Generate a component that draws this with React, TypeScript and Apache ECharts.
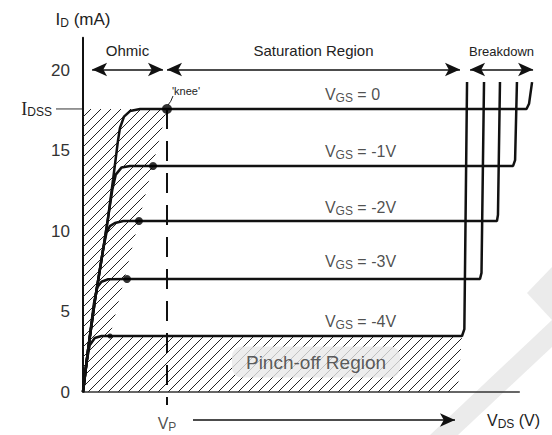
import React, { useEffect, useRef } from "react";
import * as echarts from "echarts";

// ---- axes ----
const X_MAX = 27.5;
const Y_MAX = 22;
const Y_INTERVAL = 5;

// ---- key levels ----
const IDSS = 17.58;
const VP = 5.0;

// ---- characteristic curves (VDS, ID) ----
const VGS_0 = [[0, 0], [0.3, 2.6], [0.71, 5.7], [1.19, 8.8], [1.49, 10.8], [1.79, 13.2], [2.08, 15.6], [2.2, 16.4], [2.44, 17.1], [2.8, 17.45], [3.4, 17.58], [5.0, 17.58], [26.4, 17.58], [26.55, 17.9], [26.73, 19.25]];
const VGS_1 = [[0, 0], [0.3, 2.6], [0.71, 5.7], [1.19, 8.8], [1.49, 10.8], [1.75, 12.6], [1.95, 13.5], [2.3, 13.95], [2.8, 14.04], [4.17, 14.04], [25.6, 14.04], [25.72, 14.4], [25.83, 19.25]];
const VGS_2 = [[0, 0], [0.3, 2.6], [0.71, 5.7], [1.19, 8.8], [1.4, 9.9], [1.6, 10.3], [1.9, 10.5], [2.4, 10.62], [3.33, 10.62], [24.64, 10.62], [24.7, 11.0], [24.82, 19.25]];
const VGS_3 = [[0, 0], [0.3, 2.6], [0.65, 5.5], [0.85, 6.5], [1.1, 6.85], [1.5, 7.0], [2.62, 7.02], [23.63, 7.02], [23.72, 7.4], [23.87, 19.25]];
const VGS_4 = [[0, 0], [0.2, 1.8], [0.4, 2.9], [0.7, 3.35], [1.1, 3.48], [1.61, 3.48], [22.56, 3.48], [22.7, 3.9], [22.86, 19.25]];
const CURVES = [VGS_0, VGS_1, VGS_2, VGS_3, VGS_4];
const CURVE_NAMES = ["0", "-1V", "-2V", "-3V", "-4V"];
const CURVE_LEVELS = [17.58, 14.04, 10.62, 7.02, 3.48];
const CURVE_LABEL_X = 14.4;

// ---- pinch-off points ----
const PINCH_POINTS = [[5.0, 17.58], [4.17, 14.04], [3.33, 10.62], [2.62, 7.02], [1.61, 3.48]];
const PINCH_SIZES = [10, 8, 8, 8, 5];

// ---- regions ----
const HATCH_REGION = [[0, 0], [0, 17.58], [5.0, 17.58], [1.61, 3.48], [22.56, 3.48], [22.3, 0]];
const BASELINE = [[0, 0], [26.0, 0]];
const VP_LINE = [[VP, 17.58], [VP, -0.8]];
const REGION_ARROWS = [[0.54, 4.76], [5.0, 22.44], [23.04, 26.79]];
const REGION_ARROW_Y = 20.03;
const REGION_NAMES = ["Ohmic", "Saturation Region", "Breakdown"];
const PINCH_LABEL_POS = [13.87, 1.86];

const FONT = "Liberation Sans, Arial, sans-serif";

export default function App() {
  const ref = useRef<HTMLDivElement>(null);

  useEffect(() => {
    if (!ref.current) return;
    const chart = echarts.init(ref.current, null, { renderer: "svg" });

    const cv = document.createElement("canvas");
    cv.width = 10;
    cv.height = 10;
    const ctx = cv.getContext("2d")!;
    ctx.strokeStyle = "#222";
    ctx.lineWidth = 1;
    ctx.beginPath();
    ctx.moveTo(0, 10); ctx.lineTo(10, 0);
    ctx.moveTo(-1, 1); ctx.lineTo(1, -1);
    ctx.moveTo(9, 11); ctx.lineTo(11, 9);
    ctx.stroke();
    const hatch: any = { image: cv, repeat: "repeat", imageWidth: 10, imageHeight: 10 };

    const sub = (size: number) => ({ fontSize: size, fontFamily: FONT, color: "#222", padding: [7, 0, 0, 0] });
    const main = (size: number) => ({ fontSize: size, fontFamily: FONT, color: "#222" });

    const curveSeries = CURVES.map((c) => ({
      type: "line",
      data: c,
      symbol: "none",
      clip: false,
      lineStyle: { color: "#111", width: 2.5 },
      z: 3,
    }));

    const option: any = {
      animation: false,
      grid: { left: 83, right: 552 - 83 - X_MAX * 16.8, top: 392 - Y_MAX * 16.1, bottom: 43 },
      xAxis: {
        type: "value", min: 0, max: X_MAX,
        axisLine: { show: false }, axisTick: { show: false }, axisLabel: { show: false }, splitLine: { show: false },
      },
      yAxis: {
        type: "value", min: 0, max: Y_MAX, interval: Y_INTERVAL,
        axisLine: { show: true, lineStyle: { color: "#111", width: 2 } },
        axisTick: { show: false },
        splitLine: { show: false },
        axisLabel: {
          margin: 13, fontSize: 17, fontFamily: FONT, color: "#333",
          formatter: (v: number) => (v % Y_INTERVAL === 0 ? String(v) : ""),
        },
        name: "{i|I}{s|D}{t| (mA)}",
        nameLocation: "end",
        nameGap: 9,
        nameTextStyle: { rich: { i: main(17), s: sub(12), t: main(17) } },
      },
      graphic: [
        { type: "polygon", z: -10, silent: true, shape: { points: [[527, 293], [552, 267], [552, 320]] }, style: { fill: "#ebebeb" } },
        { type: "polygon", z: -10, silent: true, shape: { points: [[430, 435], [458, 435], [552, 347], [552, 320]] }, style: { fill: "#ebebeb" } },
        { type: "text", x: 172, y: 91, style: { text: "'knee'", fontSize: 11, fontFamily: FONT, fill: "#222", verticalAlign: "middle" } },
        { type: "bezierCurve", shape: { x1: 168, y1: 105, x2: 173, y2: 96, cpx1: 171, cpy1: 102 }, style: { stroke: "#222", lineWidth: 1, fill: "none" } },
      ],
      series: [
        {
          type: "custom",
          coordinateSystem: "cartesian2d",
          data: [0],
          silent: true,
          z: 1,
          renderItem: (_p: any, api: any) => ({
            type: "polygon",
            shape: { points: HATCH_REGION.map((p) => api.coord(p)) },
            style: { fill: hatch, stroke: "none" },
          }),
        },
        {
          type: "line",
          data: BASELINE,
          symbol: "none",
          clip: false,
          lineStyle: { color: "#333", width: 1.5 },
          z: 2,
          markLine: {
            silent: true,
            symbol: ["arrow", "arrow"],
            symbolSize: [10, 15],
            lineStyle: { color: "#111", width: 1.5, type: "solid" },
            label: { show: false },
            data: [
              ...REGION_ARROWS.map((a, i) => [
                {
                  coord: [a[0], REGION_ARROW_Y],
                  label: {
                    show: true, position: "insideMiddleTop", distance: 12,
                    formatter: REGION_NAMES[i], fontFamily: FONT, color: "#222",
                    fontSize: i === 2 ? 13 : 15,
                  },
                },
                { coord: [a[1], REGION_ARROW_Y] },
              ]),
              [
                {
                  x: 193, y: 420, symbol: "none",
                  label: {
                    show: true, position: "end", distance: 32,
                    formatter: "{v|V}{s|DS}{t| (V)}",
                    rich: { v: main(16), s: sub(12), t: main(16) },
                  },
                },
                { x: 455, y: 420, symbol: "arrow" },
              ],
            ],
          },
        },
        ...curveSeries,
        {
          type: "line",
          data: VP_LINE,
          symbol: "none",
          clip: false,
          lineStyle: { color: "#111", width: 2, type: [20, 12] },
          z: 2,
        },
        {
          type: "scatter",
          data: PINCH_POINTS.map((p, i) => ({ value: p, symbolSize: PINCH_SIZES[i] })),
          itemStyle: { color: "#000" },
          z: 5,
        },
        {
          type: "scatter",
          clip: false,
          symbolSize: 0,
          z: 6,
          data: [
            ...CURVE_LEVELS.map((y, i) => ({
              value: [CURVE_LABEL_X, y],
              label: {
                show: true, position: [0, i === 3 ? -17 : -14], align: "left", verticalAlign: "middle",
                formatter: `{v|V}{s|GS}{t| = ${CURVE_NAMES[i]}}`,
                rich: { v: main(16), s: sub(12), t: main(16) },
              },
            })),
            {
              value: VP_LINE[1],
              label: {
                show: true, position: "bottom", distance: 9,
                formatter: "{v|V}{s|P}",
                rich: { v: main(16), s: sub(12) },
              },
            },
            {
              value: PINCH_LABEL_POS,
              label: {
                show: true, position: "inside",
                formatter: "Pinch-off Region",
                fontSize: 19, fontFamily: FONT, color: "#333",
                backgroundColor: "#e8e8e8", padding: [6, 14], borderRadius: 10,
              },
            },
          ],
        },
      ],
    };

    chart.setOption(option);

    // I_DSS marker on the left of the y axis, placed from the axis scale
    const p = chart.convertToPixel({ gridIndex: 0 }, [0, IDSS]) as number[];
    chart.setOption({
      graphic: [
        ...option.graphic,
        { type: "line", shape: { x1: p[0] - 27, y1: p[1], x2: p[0], y2: p[1] }, style: { stroke: "#333", lineWidth: 1 } },
        {
          type: "text", x: p[0] - 31, y: p[1],
          style: {
            text: "{i|I}{s|DSS}", align: "right", verticalAlign: "middle",
            rich: { i: { fontSize: 18, fontFamily: "Liberation Serif, serif", fill: "#222" }, s: { fontSize: 12, fontFamily: FONT, fill: "#222", padding: [7, 0, 0, 0] } },
          },
        },
      ],
    });

    return () => chart.dispose();
  }, []);

  return (
    <div
      ref={ref}
      style={{ position: "fixed", left: 0, top: 0, width: 552, height: 435, background: "#fff" }}
    />
  );
}
